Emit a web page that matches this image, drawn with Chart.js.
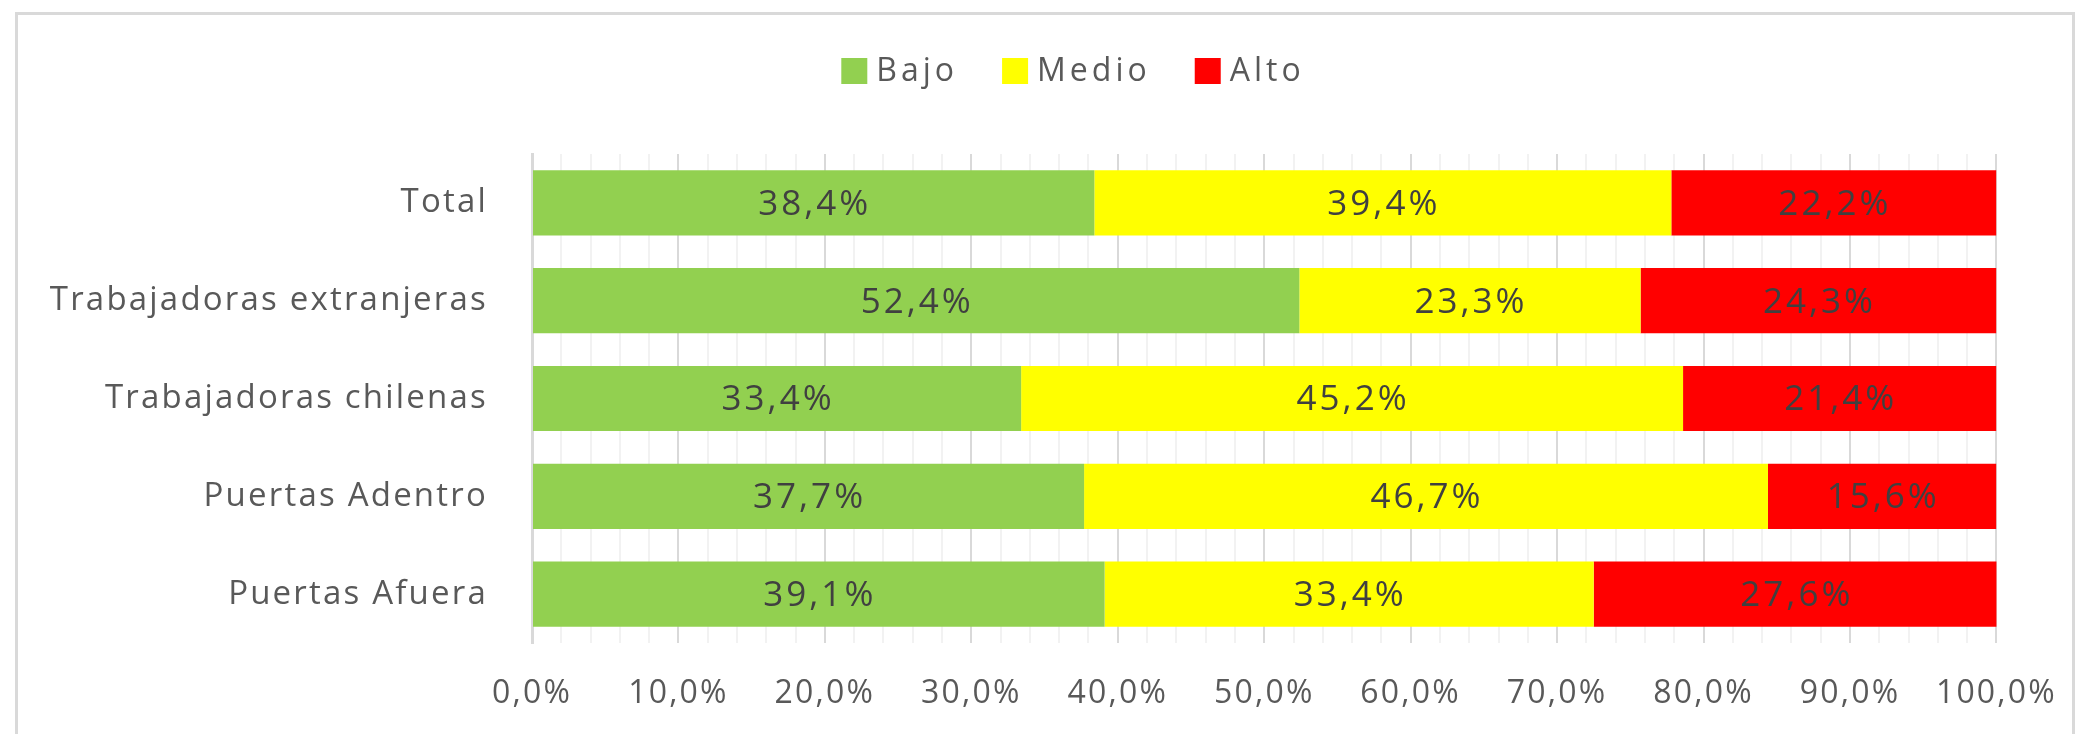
<!DOCTYPE html>
<html>
<head>
<meta charset="utf-8">
<script src="https://cdn.jsdelivr.net/npm/chart.js@4.4.1/dist/chart.umd.min.js"></script>
<style>
  html, body { margin: 0; padding: 0; background: #fff; overflow: hidden; }
  #wrap { position: relative; width: 2089px; height: 734px; }
  #frame { position: absolute; left: 15px; top: 12px; width: 2054px; height: 800px;
           border: 3px solid #d9d9d9; pointer-events: none; }
</style>
</head>
<body>
<div id="wrap">
  <canvas id="chart"></canvas>
  <div id="frame"></div>
</div>
<script>
const categories = ['Total', 'Trabajadoras extranjeras', 'Trabajadoras chilenas', 'Puertas Adentro', 'Puertas Afuera'];
const seriesNames = ['Bajo', 'Medio', 'Alto'];
const bajo = [38.4, 52.4, 33.4, 37.7, 39.1];
const medio = [39.4, 23.3, 45.2, 46.7, 33.4];
const alto = [22.2, 24.3, 21.4, 15.6, 27.6];
const seriesColors = ['#92D050', '#FFFF00', '#FF0000'];
const tickStep = 2;     // minor gridlines
const labelStep = 10;   // labelled ticks

const fontFamily = '"Open Sans", "Noto Sans", sans-serif';
const spacing = '2.2px';

function pct(v) {
    return v.toFixed(1).replace('.', ',') + '%';
}

// the original text is set quite loose, so widen it a bit
const looseText = {
    id: 'looseText',
    beforeUpdate(chart) { chart.ctx.letterSpacing = spacing; },
    beforeDraw(chart) { chart.ctx.letterSpacing = spacing; }
};

// Percent labels in the middle of each segment
const segmentLabels = {
    id: 'segmentLabels',
    afterDatasetsDraw(chart) {
        const ctx = chart.ctx;
        ctx.save();
        ctx.font = '35px ' + fontFamily;
        ctx.letterSpacing = '3px';
        ctx.fillStyle = '#404040';
        ctx.textAlign = 'center';
        ctx.textBaseline = 'middle';
        chart.data.datasets.forEach(function (ds, i) {
            chart.getDatasetMeta(i).data.forEach(function (bar, j) {
                const p = bar.getCenterPoint();
                ctx.fillText(pct(ds.data[j]), p.x + 1, p.y + 2);
            });
        });
        ctx.restore();
    }
};

// Legend drawn by hand: the built-in one puts too much room between box and text
const topLegend = {
    id: 'topLegend',
    afterDraw(chart) {
        const ctx = chart.ctx;
        const boxW = 26, boxH = 26, textGap = 9, itemGap = 44;
        const centerX = 1073, boxTop = 58;
        ctx.save();
        ctx.font = '32px ' + fontFamily;
        ctx.letterSpacing = '4px';
        ctx.textAlign = 'left';
        ctx.textBaseline = 'middle';
        const items = chart.data.datasets.map(function (ds) {
            return { text: ds.label, color: ds.backgroundColor, w: ctx.measureText(ds.label).width };
        });
        let total = 0;
        items.forEach(function (it, i) {
            total += boxW + textGap + it.w + (i > 0 ? itemGap : 0);
        });
        let x = centerX - total / 2;
        items.forEach(function (it) {
            ctx.fillStyle = it.color;
            ctx.fillRect(x, boxTop, boxW, boxH);
            ctx.fillStyle = '#595959';
            ctx.fillText(it.text, x + boxW + textGap, boxTop + boxH / 2 + 1);
            x += boxW + textGap + it.w + itemGap;
        });
        ctx.restore();
    }
};

const ctx = document.getElementById('chart').getContext('2d');
const chart = new Chart(ctx, {
    type: 'bar',
    data: {
        labels: categories,
        datasets: [
            { label: seriesNames[0], data: bajo, backgroundColor: seriesColors[0] },
            { label: seriesNames[1], data: medio, backgroundColor: seriesColors[1] },
            { label: seriesNames[2], data: alto, backgroundColor: seriesColors[2] }
        ]
    },
    options: {
        indexAxis: 'y',
        responsive: true,
        maintainAspectRatio: false,
        animation: false,
        layout: { padding: { left: 20, right: 91, top: 154, bottom: 0 } },
        datasets: { bar: { categoryPercentage: 0.667, barPercentage: 1.0, borderWidth: 0 } },
        plugins: {
            legend: { display: false },
            tooltip: { enabled: false }
        },
        scales: {
            x: {
                stacked: true,
                min: 0,
                max: 100,
                afterFit: function (scale) { scale.height = 91; },
                border: { display: false },
                grid: {
                    drawTicks: false,
                    lineWidth: 2,
                    color: function (c) {
                        return c.tick && c.tick.value % labelStep === 0 ? '#d9d9d9' : '#f2f2f2';
                    }
                },
                ticks: {
                    stepSize: tickStep,
                    autoSkip: false,
                    maxRotation: 0,
                    padding: 32,
                    color: '#595959',
                    font: { family: fontFamily, size: 32 },
                    callback: function (v) { return v % labelStep === 0 ? pct(v) : ''; }
                }
            },
            y: {
                stacked: true,
                afterFit: function (scale) { scale.width = 532 - 20; },
                border: { display: true, color: '#d9d9d9', width: 3 },
                grid: { display: false },
                ticks: {
                    padding: 36,
                    color: '#595959',
                    font: { family: fontFamily, size: 33 }
                }
            }
        }
    },
    plugins: [looseText, segmentLabels, topLegend]
});
</script>
</body>
</html>
